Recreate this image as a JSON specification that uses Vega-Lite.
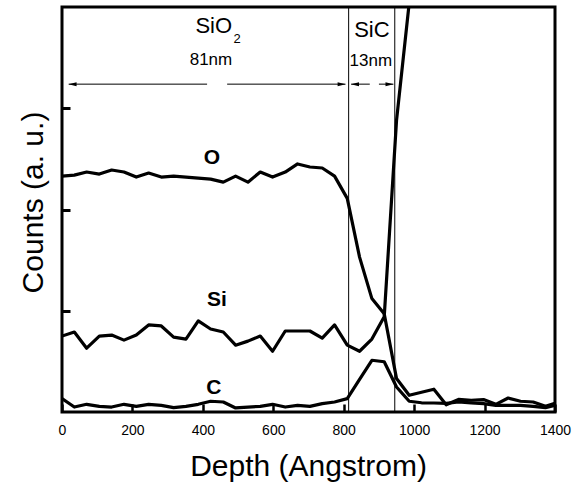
{
  "$schema": "https://vega.github.io/schema/vega-lite/v6.json",
  "width": 493,
  "height": 405,
  "autosize": {"type": "none"},
  "padding": {"left": 62, "top": 7, "right": 24, "bottom": 73},
  "background": "white",
  "config": {
    "view": {"stroke": "black", "strokeWidth": 3},
    "font": "Liberation Sans"
  },
  "datasets": {
    "curves": [
      {"depth": 0, "element": "O", "counts": 2.33}, {"depth": 35, "element": "O", "counts": 2.34}, {"depth": 70, "element": "O", "counts": 2.37}, {"depth": 106, "element": "O", "counts": 2.35}, {"depth": 141, "element": "O", "counts": 2.39}, {"depth": 176, "element": "O", "counts": 2.37}, {"depth": 211, "element": "O", "counts": 2.32}, {"depth": 246, "element": "O", "counts": 2.36}, {"depth": 282, "element": "O", "counts": 2.32}, {"depth": 317, "element": "O", "counts": 2.33}, {"depth": 352, "element": "O", "counts": 2.32}, {"depth": 387, "element": "O", "counts": 2.31}, {"depth": 422, "element": "O", "counts": 2.30}, {"depth": 458, "element": "O", "counts": 2.27}, {"depth": 493, "element": "O", "counts": 2.33}, {"depth": 528, "element": "O", "counts": 2.27}, {"depth": 563, "element": "O", "counts": 2.37}, {"depth": 598, "element": "O", "counts": 2.32}, {"depth": 634, "element": "O", "counts": 2.37}, {"depth": 669, "element": "O", "counts": 2.45}, {"depth": 704, "element": "O", "counts": 2.42}, {"depth": 739, "element": "O", "counts": 2.41}, {"depth": 774, "element": "O", "counts": 2.33}, {"depth": 810, "element": "O", "counts": 2.11}, {"depth": 845, "element": "O", "counts": 1.53}, {"depth": 880, "element": "O", "counts": 1.12}, {"depth": 915, "element": "O", "counts": 0.97}, {"depth": 950, "element": "O", "counts": 0.33}, {"depth": 986, "element": "O", "counts": 0.165}, {"depth": 1021, "element": "O", "counts": 0.195}, {"depth": 1056, "element": "O", "counts": 0.225}, {"depth": 1091, "element": "O", "counts": 0.071}, {"depth": 1126, "element": "O", "counts": 0.125}, {"depth": 1162, "element": "O", "counts": 0.116}, {"depth": 1197, "element": "O", "counts": 0.123}, {"depth": 1232, "element": "O", "counts": 0.076}, {"depth": 1267, "element": "O", "counts": 0.138}, {"depth": 1302, "element": "O", "counts": 0.106}, {"depth": 1338, "element": "O", "counts": 0.099}, {"depth": 1373, "element": "O", "counts": 0.056}, {"depth": 1400, "element": "O", "counts": 0.086},
      {"depth": 0, "element": "Si", "counts": 0.75}, {"depth": 35, "element": "Si", "counts": 0.79}, {"depth": 70, "element": "Si", "counts": 0.63}, {"depth": 106, "element": "Si", "counts": 0.75}, {"depth": 141, "element": "Si", "counts": 0.76}, {"depth": 176, "element": "Si", "counts": 0.71}, {"depth": 211, "element": "Si", "counts": 0.76}, {"depth": 246, "element": "Si", "counts": 0.86}, {"depth": 282, "element": "Si", "counts": 0.85}, {"depth": 317, "element": "Si", "counts": 0.74}, {"depth": 352, "element": "Si", "counts": 0.72}, {"depth": 387, "element": "Si", "counts": 0.90}, {"depth": 422, "element": "Si", "counts": 0.82}, {"depth": 458, "element": "Si", "counts": 0.79}, {"depth": 493, "element": "Si", "counts": 0.66}, {"depth": 528, "element": "Si", "counts": 0.70}, {"depth": 563, "element": "Si", "counts": 0.75}, {"depth": 598, "element": "Si", "counts": 0.60}, {"depth": 634, "element": "Si", "counts": 0.80}, {"depth": 669, "element": "Si", "counts": 0.80}, {"depth": 704, "element": "Si", "counts": 0.80}, {"depth": 739, "element": "Si", "counts": 0.73}, {"depth": 774, "element": "Si", "counts": 0.86}, {"depth": 810, "element": "Si", "counts": 0.66}, {"depth": 845, "element": "Si", "counts": 0.60}, {"depth": 880, "element": "Si", "counts": 0.72}, {"depth": 915, "element": "Si", "counts": 0.94}, {"depth": 950, "element": "Si", "counts": 2.88}, {"depth": 986, "element": "Si", "counts": 4.04}, {"depth": 1021, "element": "Si", "counts": 5.5},
      {"depth": 0, "element": "C", "counts": 0.132}, {"depth": 35, "element": "C", "counts": 0.049}, {"depth": 70, "element": "C", "counts": 0.076}, {"depth": 106, "element": "C", "counts": 0.056}, {"depth": 141, "element": "C", "counts": 0.049}, {"depth": 176, "element": "C", "counts": 0.076}, {"depth": 211, "element": "C", "counts": 0.056}, {"depth": 246, "element": "C", "counts": 0.076}, {"depth": 282, "element": "C", "counts": 0.066}, {"depth": 317, "element": "C", "counts": 0.043}, {"depth": 352, "element": "C", "counts": 0.056}, {"depth": 387, "element": "C", "counts": 0.076}, {"depth": 422, "element": "C", "counts": 0.106}, {"depth": 458, "element": "C", "counts": 0.099}, {"depth": 493, "element": "C", "counts": 0.040}, {"depth": 528, "element": "C", "counts": 0.049}, {"depth": 563, "element": "C", "counts": 0.056}, {"depth": 598, "element": "C", "counts": 0.076}, {"depth": 634, "element": "C", "counts": 0.049}, {"depth": 669, "element": "C", "counts": 0.066}, {"depth": 704, "element": "C", "counts": 0.056}, {"depth": 739, "element": "C", "counts": 0.083}, {"depth": 774, "element": "C", "counts": 0.099}, {"depth": 810, "element": "C", "counts": 0.132}, {"depth": 845, "element": "C", "counts": 0.323}, {"depth": 880, "element": "C", "counts": 0.511}, {"depth": 915, "element": "C", "counts": 0.496}, {"depth": 950, "element": "C", "counts": 0.247}, {"depth": 986, "element": "C", "counts": 0.106}, {"depth": 1021, "element": "C", "counts": 0.091}, {"depth": 1056, "element": "C", "counts": 0.089}, {"depth": 1091, "element": "C", "counts": 0.086}, {"depth": 1126, "element": "C", "counts": 0.099}, {"depth": 1162, "element": "C", "counts": 0.091}, {"depth": 1197, "element": "C", "counts": 0.083}, {"depth": 1232, "element": "C", "counts": 0.066}, {"depth": 1267, "element": "C", "counts": 0.066}, {"depth": 1302, "element": "C", "counts": 0.066}, {"depth": 1338, "element": "C", "counts": 0.056}, {"depth": 1373, "element": "C", "counts": 0.043}, {"depth": 1400, "element": "C", "counts": 0.066}
    ],
    "bounds": [{"depth": 814}, {"depth": 945}],
    "elementLabels": [
      {"depth": 426, "counts": 2.448, "text": "O"},
      {"depth": 440, "counts": 1.044, "text": "Si"},
      {"depth": 431, "counts": 0.182, "text": "C"}
    ],
    "layerNames": [
      {"depth": 431, "counts": 3.739, "text": "SiO"},
      {"depth": 880, "counts": 3.705, "text": "SiC"}
    ],
    "subscripts": [{"depth": 497, "counts": 3.643, "text": "2"}],
    "thickness": [
      {"depth": 423, "counts": 3.426, "text": "81nm"},
      {"depth": 877, "counts": 3.416, "text": "13nm"}
    ],
    "arrowLines": [
      {"start": 19, "end": 412, "counts": 3.238},
      {"start": 469, "end": 805, "counts": 3.238},
      {"start": 821, "end": 874, "counts": 3.238},
      {"start": 900, "end": 941, "counts": 3.238}
    ],
    "leftHeads": [{"depth": 30, "counts": 3.238}, {"depth": 832, "counts": 3.238}],
    "rightHeads": [{"depth": 794, "counts": 3.238}, {"depth": 930, "counts": 3.238}]
  },
  "layer": [
    {
      "data": {"name": "curves"},
      "mark": {"type": "line", "color": "black", "strokeWidth": 3.2, "clip": true, "strokeJoin": "round"},
      "encoding": {
        "x": {
          "field": "depth", "type": "quantitative",
          "scale": {"domain": [0, 1400], "nice": false, "zero": false},
          "axis": {
            "values": [0, 100, 200, 300, 400, 500, 600, 700, 800, 900, 1000, 1100, 1200, 1300, 1400],
            "format": "d",
            "labelExpr": "datum.value % 200 === 0 ? datum.label : ''",
            "tickSize": {"condition": {"test": "datum.value % 200 === 0", "value": -8}, "value": -3.5},
            "tickWidth": 2.5,
            "tickColor": "black",
            "domain": false,
            "grid": false,
            "labelFont": "Liberation Sans",
            "labelFontSize": 14,
            "labelColor": "black",
            "labelBaseline": "alphabetic",
            "labelPadding": 30,
            "labelFlush": false,
            "labelOverlap": false,
            "title": "Depth (Angstrom)",
            "titleFont": "Liberation Sans",
            "titleFontSize": 30,
            "titleFontWeight": "normal",
            "titleColor": "black",
            "titleX": 246,
            "titleY": 63,
            "titleAlign": "center",
            "titleBaseline": "alphabetic"
          }
        },
        "y": {
          "field": "counts", "type": "quantitative",
          "scale": {"domain": [0, 4], "nice": false, "zero": false},
          "axis": {
            "values": [1, 2, 3],
            "tickSize": -8,
            "tickWidth": 3,
            "tickColor": "black",
            "labels": false,
            "domain": false,
            "grid": false,
            "title": "Counts (a. u.)",
            "titleFont": "Liberation Sans",
            "titleFontSize": 30,
            "titleFontWeight": "normal",
            "titleColor": "black",
            "titleAngle": -90,
            "titleX": -20,
            "titleY": 195,
            "titleAlign": "center",
            "titleBaseline": "alphabetic"
          }
        },
        "detail": {"field": "element", "type": "nominal"}
      }
    },
    {
      "data": {"name": "bounds"},
      "mark": {"type": "rule", "color": "black", "strokeWidth": 1},
      "encoding": {"x": {"field": "depth", "type": "quantitative"}}
    },
    {
      "data": {"name": "arrowLines"},
      "mark": {"type": "rule", "color": "black", "strokeWidth": 1},
      "encoding": {
        "x": {"field": "start", "type": "quantitative"},
        "x2": {"field": "end"},
        "y": {"field": "counts", "type": "quantitative"}
      }
    },
    {
      "data": {"name": "leftHeads"},
      "mark": {"type": "point", "shape": "M-1,0L1,-0.5L1,0.5Z", "size": 64, "filled": true, "color": "black", "opacity": 1},
      "encoding": {
        "x": {"field": "depth", "type": "quantitative"},
        "y": {"field": "counts", "type": "quantitative"}
      }
    },
    {
      "data": {"name": "rightHeads"},
      "mark": {"type": "point", "shape": "M1,0L-1,-0.5L-1,0.5Z", "size": 64, "filled": true, "color": "black", "opacity": 1},
      "encoding": {
        "x": {"field": "depth", "type": "quantitative"},
        "y": {"field": "counts", "type": "quantitative"}
      }
    },
    {
      "data": {"name": "elementLabels"},
      "mark": {"type": "text", "font": "Liberation Sans", "fontSize": 21, "fontWeight": "bold", "color": "black", "align": "center", "baseline": "alphabetic"},
      "encoding": {
        "x": {"field": "depth", "type": "quantitative"},
        "y": {"field": "counts", "type": "quantitative"},
        "text": {"field": "text"}
      }
    },
    {
      "data": {"name": "layerNames"},
      "mark": {"type": "text", "font": "Liberation Sans", "fontSize": 22, "color": "black", "align": "center", "baseline": "alphabetic"},
      "encoding": {
        "x": {"field": "depth", "type": "quantitative"},
        "y": {"field": "counts", "type": "quantitative"},
        "text": {"field": "text"}
      }
    },
    {
      "data": {"name": "subscripts"},
      "mark": {"type": "text", "font": "Liberation Sans", "fontSize": 13, "color": "black", "align": "center", "baseline": "alphabetic"},
      "encoding": {
        "x": {"field": "depth", "type": "quantitative"},
        "y": {"field": "counts", "type": "quantitative"},
        "text": {"field": "text"}
      }
    },
    {
      "data": {"name": "thickness"},
      "mark": {"type": "text", "font": "Liberation Sans", "fontSize": 17, "color": "black", "align": "center", "baseline": "alphabetic"},
      "encoding": {
        "x": {"field": "depth", "type": "quantitative"},
        "y": {"field": "counts", "type": "quantitative"},
        "text": {"field": "text"}
      }
    }
  ]
}
